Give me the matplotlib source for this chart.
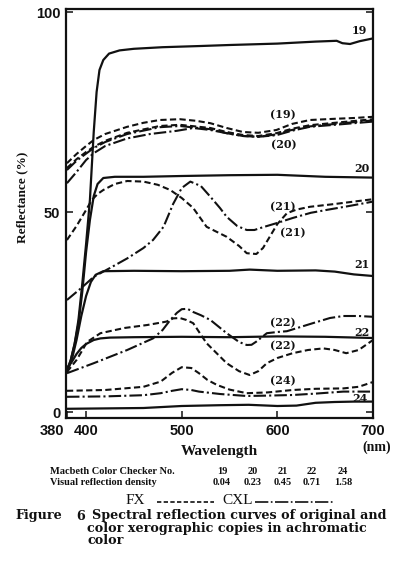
import matplotlib
matplotlib.use("Agg")
import matplotlib.pyplot as plt
import matplotlib.transforms as mtransforms
from matplotlib import font_manager
from matplotlib.lines import Line2D

# ---------------- data: spectral reflectance (%) vs wavelength (nm) ----------------
# Originals (solid)
wl_orig19 = [380, 384, 388, 392, 396, 400, 404, 408, 411, 414, 418, 424, 435, 450, 480, 520, 550, 600, 640, 662, 668, 676, 686, 700]
orig19 = [10.5, 13, 17, 23, 32, 42, 53, 70, 80, 85.5, 88, 89.6, 90.4, 90.8, 91.2, 91.5, 91.75, 92.1, 92.6, 92.8, 92.2, 92.0, 92.7, 93.4]

wl_orig20 = [380, 384, 388, 392, 396, 400, 404, 408, 412, 418, 430, 460, 500, 550, 600, 650, 700]
orig20 = [10, 13, 17, 22, 30, 40, 48, 54, 57, 58.5, 58.8, 58.8, 59.0, 59.2, 59.3, 58.8, 58.6]

wl_orig21 = [380, 385, 390, 395, 400, 405, 410, 418, 450, 500, 550, 571, 600, 640, 660, 680, 700]
orig21 = [10, 13, 18, 24, 29, 32.5, 34.3, 35.2, 35.3, 35.2, 35.3, 35.6, 35.3, 35.4, 35.1, 34.4, 34.0]

wl_orig22 = [380, 385, 390, 395, 400, 408, 415, 425, 450, 500, 550, 600, 650, 700]
orig22 = [11, 12.5, 14.5, 16, 17, 18, 18.4, 18.6, 18.7, 18.8, 18.7, 18.9, 18.8, 18.5]

wl_orig24 = [380, 420, 460, 500, 540, 570, 600, 620, 640, 660, 680, 700]
orig24 = [0.8, 0.9, 1.0, 1.5, 1.7, 1.8, 1.5, 1.6, 2.3, 2.5, 2.6, 2.6]

# FX copies (dashed)
wl_fx19 = [380, 390, 400, 408, 420, 443, 460, 477, 498, 515, 530, 547, 564, 580, 599, 615, 634, 660, 680, 700]
fx19 = [62.2, 64.5, 66.5, 68, 69.5, 71.3, 72.3, 73, 73.2, 72.8, 72.2, 71, 70, 69.8, 70.5, 72, 73, 73.3, 73.5, 73.8]

wl_fx20 = [380, 390, 400, 408, 420, 443, 477, 498, 530, 547, 564, 580, 599, 615, 634, 660, 700]
fx20 = [61, 63.2, 65, 66.3, 67.8, 69.8, 71.5, 71.8, 71, 70, 69.25, 69, 69.7, 70.8, 71.7, 72.3, 73.2]

wl_fx21 = [380, 390, 400, 406, 412, 418, 430, 443, 460, 475, 488, 500, 512, 526, 547, 560, 568, 578, 585, 592, 600, 610, 620, 634, 660, 680, 700]
fx21 = [43, 46.5, 50.5, 53, 54.5, 55.5, 57, 57.75, 57.6, 56.8, 55.5, 53.5, 51, 46.3, 43.8, 41.5, 39.7, 39.5, 41, 43.8, 47, 49.7, 50.6, 51.3, 52, 52.6, 53.2]

wl_fx22 = [380, 385, 390, 395, 401, 415, 440, 464, 484, 491, 498, 505, 512, 526, 547, 560, 571, 580, 589, 600, 616, 632, 648, 660, 672, 685, 700]
fx22 = [10, 11.5, 13, 15, 17.5, 19.7, 21, 21.75, 22.6, 23.4, 23.5, 23, 22.2, 17.2, 12.2, 10.2, 9.25, 10.2, 12.2, 13.5, 14.7, 15.5, 15.9, 15.5, 14.7, 15.5, 18]

wl_fx24 = [380, 420, 460, 478, 490, 500, 510, 518, 527, 537, 550, 568, 590, 616, 640, 669, 685, 700]
fx24 = [5.3, 5.5, 6.3, 7.6, 9.8, 11.2, 11, 9.7, 8, 6.75, 5.6, 4.7, 4.9, 5.5, 5.8, 5.9, 6.3, 7.5]

# CXL copies (dash-dot)
wl_cxl19 = [380, 390, 400, 408, 420, 443, 477, 498, 530, 547, 564, 580, 599, 615, 634, 660, 700]
cxl19 = [60.5, 62.8, 64.6, 66.0, 67.5, 69.5, 71.2, 71.5, 70.7, 69.7, 69.0, 68.8, 69.4, 70.5, 71.4, 72.0, 72.9]

wl_cxl20 = [380, 390, 400, 408, 420, 443, 467, 495, 512, 530, 547, 564, 580, 599, 615, 634, 660, 700]
cxl20 = [57.2, 60, 63, 64.7, 66.5, 68.4, 69.5, 70.3, 71, 70.5, 69.7, 69, 68.8, 69.2, 70.3, 71.3, 71.8, 72.6]

wl_cxl21 = [380, 395, 408, 425, 443, 460, 470, 481, 491, 500, 509, 520, 530, 540, 547, 558, 568, 576, 585, 599, 616, 635, 651, 675, 700]
cxl21 = [28, 31, 33.8, 36, 38.4, 41, 43, 46.3, 52, 56, 57.6, 56.5, 53.8, 51, 48.8, 46.5, 45.5, 45.5, 46.2, 47.2, 48.5, 49.8, 50.5, 51.5, 52.6]

wl_cxl22 = [380, 408, 443, 470, 480, 488, 495, 500, 506, 512, 520, 530, 547, 560, 568, 573, 578, 589, 600, 610, 637, 655, 669, 685, 700]
cxl22 = [9.7, 12.2, 15.5, 18.4, 20.5, 23, 24.8, 25.7, 25.8, 25, 24.2, 23, 19.7, 17.5, 16.75, 16.8, 17.6, 19.7, 20, 20.2, 22.2, 23.5, 24, 24, 23.8]

wl_cxl24 = [380, 420, 460, 478, 490, 500, 510, 518, 540, 568, 590, 616, 640, 669, 700]
cxl24 = [3.8, 3.9, 4.2, 4.7, 5.3, 5.7, 5.5, 5.1, 4.5, 4.0, 4.1, 4.25, 4.6, 5.1, 5.1]

# curve annotations: text, wavelength, reflectance
curve_labels = [
    ("19", 686, 95.5), ("(19)", 606, 74.4), ("(20)", 607, 66.8),
    ("20", 688, 61.0), ("(21)", 606, 51.2), ("(21)", 616, 44.7),
    ("21", 688, 36.8), ("(22)", 606, 22.3), ("22", 688, 20.0),
    ("(22)", 606, 16.5), ("(24)", 606, 7.8), ("24", 686, 3.4),
]

xticks = [380, 400, 500, 600, 700]
yticks = [0, 50, 100]

checker_numbers = ["19", "20", "21", "22", "24"]
visual_density = ["0.04", "0.23", "0.45", "0.71", "1.58"]

caption_lines = [
    "Spectral reflection curves of original and",
    "color xerographic copies in achromatic",
    "color",
]


def available(name):
    try:
        font_manager.findfont(font_manager.FontProperties(family=name), fallback_to_default=False)
        return True
    except Exception:
        return False


TICK_FONT = "Liberation Sans Narrow" if available("Liberation Sans Narrow") else "Liberation Sans"
SERIF = "Liberation Serif"
WIDE_SERIF = "DejaVu Serif"

W, H = 399, 585
fig = plt.figure(figsize=(W / 100, H / 100), dpi=100)
fig.patch.set_facecolor("white")


def fx(px):
    return px / W


def fy(py):
    return 1 - py / H


ax = fig.add_axes([fx(66), fy(418), fx(373) - fx(66), fy(9) - fy(418)])
ax.set_xlim(379, 700)
ax.set_ylim(-1.5, 100.75)

K = "#111111"
solid = dict(color=K, lw=1.6, ls="-", solid_capstyle="round")
dashed = dict(color=K, lw=1.5, ls=(0, (3, 1.6)))
dashdot = dict(color=K, lw=1.5, ls=(0, (6, 1.5, 1, 1.5)))

for wl, v in [(wl_orig19, orig19), (wl_orig20, orig20), (wl_orig21, orig21),
              (wl_orig22, orig22), (wl_orig24, orig24)]:
    ax.plot(wl, v, **solid)
for wl, v in [(wl_fx19, fx19), (wl_fx20, fx20), (wl_fx21, fx21),
              (wl_fx22, fx22), (wl_fx24, fx24)]:
    ax.plot(wl, v, **dashed)
for wl, v in [(wl_cxl19, cxl19), (wl_cxl20, cxl20), (wl_cxl21, cxl21),
              (wl_cxl22, cxl22), (wl_cxl24, cxl24)]:
    ax.plot(wl, v, **dashdot)

for s, wl, v in curve_labels:
    ax.text(wl, v, s, ha="center", va="center", fontsize=8, fontweight="bold",
            family=WIDE_SERIF, color=K)

for sp in ax.spines.values():
    sp.set_linewidth(1.6)
    sp.set_color(K)

ax.set_xticks(xticks)
ax.set_xticklabels([str(t) for t in xticks])
ax.set_yticks(yticks)
ax.set_yticklabels([str(t) for t in yticks])
ax.tick_params(axis="both", direction="in", length=5, width=1.1, color=K,
               labelsize=10.5, labelcolor=K)
ax.tick_params(axis="x", pad=4.5)
ax.tick_params(axis="y", pad=4, right=True)
for lab in ax.get_xticklabels() + ax.get_yticklabels():
    lab.set_family(TICK_FONT)
    lab.set_fontweight("bold")
first = ax.get_xticklabels()[0]
first.set_horizontalalignment("right")
first.set_transform(first.get_transform() + mtransforms.ScaledTranslation(-3 / 100, 0, fig.dpi_scale_trans))

# axis titles
fig.text(fx(22), fy(197), "Reflectance (%)", rotation=90, ha="center", va="center",
         family=SERIF, fontweight="bold", fontsize=9.5, color=K)
fig.text(fx(219), fy(452), "Wavelength", ha="center", va="center",
         family=SERIF, fontweight="bold", fontsize=11, color=K)
fig.text(fx(377), fy(447), "(nm)", ha="center", va="center",
         family=SERIF, fontweight="bold", fontsize=10, color=K)

# Macbeth table
tbl = dict(family=SERIF, fontweight="bold", fontsize=7.5, color=K, va="center")
fig.text(fx(50), fy(472), "Macbeth Color Checker No.", ha="left", **tbl)
fig.text(fx(50), fy(482.5), "Visual reflection density", ha="left", **tbl)
for xc, n, d in zip([222, 253, 283, 312, 343], checker_numbers, visual_density):
    fig.text(fx(xc), fy(472), n, ha="center", **tbl)
    fig.text(fx(xc), fy(482.5), d, ha="center", **tbl)

# line-style key
key = dict(family=SERIF, fontsize=11, color=K, va="center")
fig.text(fx(135), fy(501), "FX", ha="center", **key)
fig.text(fx(238), fy(501), "CXL", ha="center", **key)
fig.add_artist(Line2D([fx(157), fx(214)], [fy(502), fy(502)], color=K, lw=1.2,
                      ls=(0, (2.6, 1.4)), transform=fig.transFigure))
fig.add_artist(Line2D([fx(255), fx(333)], [fy(502), fy(502)], color=K, lw=1.2,
                      ls=(0, (8, 1.5, 1, 1.5)), transform=fig.transFigure))

# caption
cap = dict(family=WIDE_SERIF, fontweight="bold", fontsize=9.2, color=K, va="center", ha="left")
fig.text(fx(15), fy(516), "Figure", **cap)
fig.text(fx(76), fy(516), "6", **cap)
for line, x_px, y_px in zip(caption_lines, [92, 87, 87], [516, 528.5, 540.5]):
    fig.text(fx(x_px), fy(y_px), line, **cap)

fig.savefig("out.png", dpi=100, facecolor="white")
